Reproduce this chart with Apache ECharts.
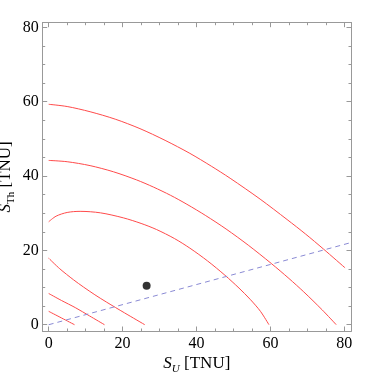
<!DOCTYPE html>
<html>
<head>
<meta charset="utf-8">
<script src="https://cdn.jsdelivr.net/npm/echarts@6/dist/echarts.min.js"></script>
<style>html,body{margin:0;padding:0;background:#fff}#c{width:374px;height:374px}</style>
</head>
<body>
<div id="c"></div>
<script>
var majorTicks = [0, 20, 40, 60, 80];
var minorTicks = [0, 5, 10, 15, 20, 25, 30, 35, 40, 45, 50, 55, 60, 65, 70, 75, 80];
var curve1 = [[0,59.3],[5,58.7],[11.2,57.3],[18,55.3],[24.7,52.75],[31.5,49.6],[38.2,46.1],[44,42.65],[49.1,39.4],[57.2,33.8],[64.5,28.3],[69.5,24.4],[74.3,20.4],[80.2,15.3]];
var curve2 = [[0,44.2],[5,43.85],[11.2,42.8],[17.5,41.15],[23.8,38.95],[28.3,37.05],[33,34.8],[37.4,32.4],[42.5,29.35],[48,25.75],[54,21.4],[60.2,16.5],[65,12.45],[69,8.85],[74,4.0],[77.8,0]];
var curve3 = [[0,27.7],[2,29.2],[5,30.2],[8.5,30.5],[14,30.1],[20.2,28.75],[25,27.25],[29.2,25.6],[34,23.2],[38.2,20.6],[43,17.15],[47.7,13.3],[51.5,9.85],[54.5,6.85],[57.3,3.6],[59.6,0]];
var curve4 = [[0,17.9],[3,15.05],[6.7,12.1],[9.4,10.15],[12.5,8.05],[15.7,6.05],[20.5,3.2],[26.0,0]];
var curve5 = [[0,8.4],[3.5,6.5],[7.2,4.6],[11,2.4],[15.1,0]];
var curve6 = [[0,3.6],[3.5,1.8],[7.0,0]];
var dashedLine = [[0,0],[81.8,22.1]];
var bestFit = [[26.5,10.5]];

var xMin = -1.62, xMax = 81.8, yMin = -1.69, yMax = 81.25;
var gray = '#999';
var font = 'Liberation Serif';

function ax(pos, labels, ticks, len, extra) {
  var isX = pos === 'bottom' || pos === 'top';
  var o = {
    type: 'value', position: pos, min: isX ? xMin : yMin, max: isX ? xMax : yMax,
    splitLine: {show: false},
    axisLine: {show: true, onZero: false, lineStyle: {color: gray, width: 1}},
    axisTick: {show: true, inside: true, length: len, customValues: ticks, lineStyle: {color: gray, width: 1}},
    axisLabel: {show: labels, customValues: majorTicks, color: '#000', fontFamily: font, fontSize: 16, margin: isX ? 5 : 4}
  };
  for (var k in extra) o[k] = extra[k];
  return o;
}

var chart = echarts.init(document.getElementById('c'));
var red = '#ff4a4a';
function curve(d) {
  return {type: 'line', data: d, smooth: 0.3, showSymbol: false, symbol: 'none',
    lineStyle: {color: red, width: 1}, silent: true};
}
chart.setOption({
  animation: false,
  textStyle: {fontFamily: font},
  grid: {left: 42.7, top: 22.7, right: 23, bottom: 43, containLabel: false, outerBoundsMode: 'none'},
  xAxis: [
    ax('bottom', true, majorTicks, 4.5, {
      name: '{s|S}{u|U} [TNU]', nameLocation: 'middle', nameGap: 22, nameMoveOverlap: false,
      nameTextStyle: {color: '#000', fontFamily: font, fontSize: 17,
        rich: {s: {fontFamily: font, fontStyle: 'italic', fontSize: 17, lineHeight: 22},
               u: {fontFamily: font, fontStyle: 'italic', fontSize: 11, verticalAlign: 'bottom', lineHeight: 22, padding: [6,0,0,0]}}}
    }),
    ax('bottom', false, minorTicks, 2.5, {}),
    ax('top', false, majorTicks, 4.5, {}),
    ax('top', false, minorTicks, 2.5, {})
  ],
  yAxis: [
    ax('left', true, majorTicks, 4.5, {
      name: '{s|S}{u|Th} [TNU]', nameLocation: 'middle', nameGap: 26, nameRotate: 90, nameMoveOverlap: false,
      nameTextStyle: {color: '#000', fontFamily: font, fontSize: 17,
        rich: {s: {fontFamily: font, fontStyle: 'italic', fontSize: 17, lineHeight: 22},
               u: {fontFamily: font, fontSize: 11, verticalAlign: 'bottom', lineHeight: 22, padding: [6,0,0,0]}}}
    }),
    ax('left', false, minorTicks, 2.5, {}),
    ax('right', false, majorTicks, 4.5, {}),
    ax('right', false, minorTicks, 2.5, {})
  ],
  series: [
    curve(curve1), curve(curve2), curve(curve3), curve(curve4), curve(curve5), curve(curve6),
    {type: 'line', data: dashedLine, showSymbol: false, symbol: 'none',
     lineStyle: {color: '#8a8ad4', width: 1, type: [5, 4]}},
    {type: 'scatter', data: bestFit, symbol: 'circle', symbolSize: 8, itemStyle: {color: '#000'}}
  ]
});
</script>
</body>
</html>
